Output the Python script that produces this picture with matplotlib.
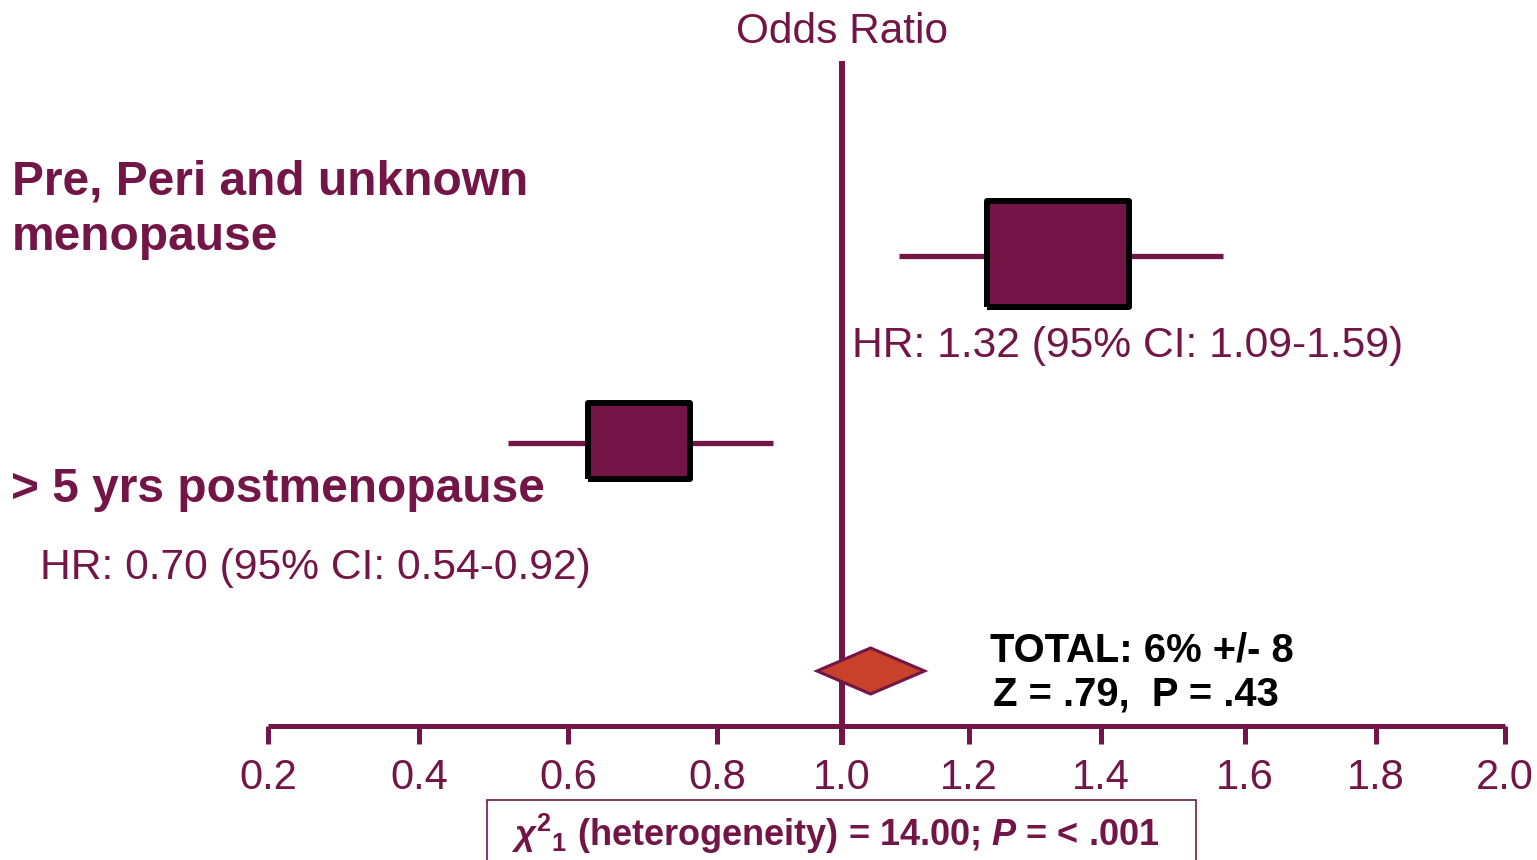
import numpy as np
import matplotlib
matplotlib.use("Agg")
import matplotlib.pyplot as plt
from matplotlib.patches import Polygon, Rectangle
from matplotlib import font_manager as fm

# ---------------- data ----------------
groups = ["Pre, Peri and unknown\nmenopause", "> 5 yrs postmenopause"]
hr = [1.335, 0.695]
ci_low = [1.09, 0.52]
ci_high = [1.57, 0.89]
hr_labels = ["HR: 1.32 (95% CI: 1.09-1.59)", "HR: 0.70 (95% CI: 0.54-0.92)"]
total_est = 1.045
total_low = 0.96
total_high = 1.13
total_lines = ["TOTAL: 6% +/- 8", "Z = .79,  P = .43"]
x_ticks = [0.2, 0.4, 0.6, 0.8, 1.0, 1.2, 1.4, 1.6, 1.8, 2.0]
x_tick_labels = ["0.2", "0.4", "0.6", "0.8", "1.0", "1.2", "1.4", "1.6", "1.8", "2.0"]
axis_title = "Odds Ratio"
het_text = r"$\chi^{2}{}_{1}$ (heterogeneity) = 14.00; $P$ = < .001"

# ---------------- style ----------------
W, H = 1537, 860
PURPLE = "#731546"
ORANGE = "#C8412A"
# uneven spacing of the hand-drawn axis (pixel position of each tick)
tick_px = np.array([268, 419, 568, 717, 842, 969, 1101, 1245, 1376, 1505], float)
row_y = [254, 441]              # vertical position of rows (px from top)
box_size = [102.5, 73.0]        # marker widths in points
box_aspect = 0.74
diamond_y, diamond_half = 671, 23

avail = {f.name for f in fm.fontManager.ttflist}
NARROW = "Liberation Sans Narrow" if "Liberation Sans Narrow" in avail else "Liberation Sans"

plt.rcParams["font.family"] = ["Liberation Sans", "DejaVu Sans"]
plt.rcParams["mathtext.fontset"] = "custom"
plt.rcParams["mathtext.rm"] = f"{NARROW}:bold"
plt.rcParams["mathtext.bf"] = f"{NARROW}:bold"
plt.rcParams["mathtext.it"] = f"{NARROW}:bold:italic"

sv = np.array(x_ticks, float)
sp = (tick_px - tick_px[0]) / (tick_px[-1] - tick_px[0])


def _pw(x, xs, ys):
    x = np.asarray(x, dtype=float)
    y = np.interp(x, xs, ys)
    y = np.where(x < xs[0], ys[0] + (x - xs[0]) * (ys[1] - ys[0]) / (xs[1] - xs[0]), y)
    y = np.where(x > xs[-1], ys[-1] + (x - xs[-1]) * (ys[-1] - ys[-2]) / (xs[-1] - xs[-2]), y)
    return y


def fwd(x):
    return _pw(x, sv, sp)


def inv(y):
    return _pw(y, sp, sv)


fig = plt.figure(figsize=(W / 100, H / 100), dpi=100)
fig.patch.set_facecolor("white")
ax = fig.add_axes([tick_px[0] / W, 0, (tick_px[-1] - tick_px[0]) / W, 1])
ax.set_xscale("function", functions=(fwd, inv))
ax.set_xlim(x_ticks[0], x_ticks[-1])
ax.set_ylim(H, 0)
ax.patch.set_alpha(0)

for s in ["top", "left", "right"]:
    ax.spines[s].set_visible(False)
ax.spines["bottom"].set_position(("data", 725.5))
ax.spines["bottom"].set_color(PURPLE)
ax.spines["bottom"].set_linewidth(3.6)
ax.spines["bottom"].set_capstyle("butt")
ax.set_yticks([])
ax.set_xticks(x_ticks)
ax.set_xticklabels(x_tick_labels)
ax.tick_params(axis="x", direction="out", length=12.6, width=3.6, color=PURPLE,
               labelcolor=PURPLE, labelsize=30, pad=10.5)

# reference line
ax.axvline(1.0, ymin=1 - 742 / H, ymax=1 - 64 / H, color=PURPLE, lw=4.3, zorder=2)

# rows
rect_marker = [(-1, -box_aspect), (1, -box_aspect), (1, box_aspect), (-1, box_aspect), (-1, -box_aspect)]
for i in range(len(hr)):
    ax.plot([ci_low[i], ci_high[i]], [row_y[i] + 1.5, row_y[i] + 1.5], color=PURPLE, lw=3.8,
            solid_capstyle="butt", zorder=3)
    ax.plot([hr[i]], [row_y[i]], marker=rect_marker, markersize=box_size[i],
            markerfacecolor=PURPLE, markeredgecolor="black", markeredgewidth=4.3,
            linestyle="none", zorder=4)

# diamond
dx = [total_low, total_est, total_high, total_est]
dy = [diamond_y, diamond_y - diamond_half, diamond_y, diamond_y + diamond_half]
ax.add_patch(Polygon(np.column_stack([dx, dy]), closed=True, facecolor=ORANGE,
                     edgecolor=PURPLE, lw=2.2, zorder=5))


def ftext(x, y, s, **kw):
    kw.setdefault("va", "baseline")
    return fig.text(x / W, 1 - y / H, s, **kw)


ftext(842.5, 43, axis_title, ha="center", fontsize=30.5, color=PURPLE)

g1 = groups[0].split("\n")
ftext(12, 194, g1[0], ha="left", fontsize=34.5, fontweight="bold", color=PURPLE)
ftext(12, 250, g1[1], ha="left", fontsize=34.5, fontweight="bold", color=PURPLE)
ftext(11, 502, groups[1], ha="left", fontsize=34.5, fontweight="bold", color=PURPLE)

ftext(852, 357, hr_labels[0], ha="left", fontsize=30.7, color=PURPLE)
ftext(40, 579, hr_labels[1], ha="left", fontsize=30.7, color=PURPLE)

ftext(990, 662, total_lines[0], ha="left", fontsize=28.8, fontweight="bold", color="black")
ftext(993, 705, total_lines[1], ha="left", fontsize=28.8, fontweight="bold", color="black")

# heterogeneity box
fig.add_artist(Rectangle((487 / W, -0.05), (1196 - 487) / W, 0.05 + (H - 800) / H,
                         transform=fig.transFigure, facecolor="none",
                         edgecolor=PURPLE, lw=1.2))
ftext(835, 846, het_text, ha="center", fontsize=26, color=PURPLE,
      family=[NARROW, "Liberation Sans"], fontweight="bold")

fig.savefig("out.png", dpi=100, facecolor="white")
